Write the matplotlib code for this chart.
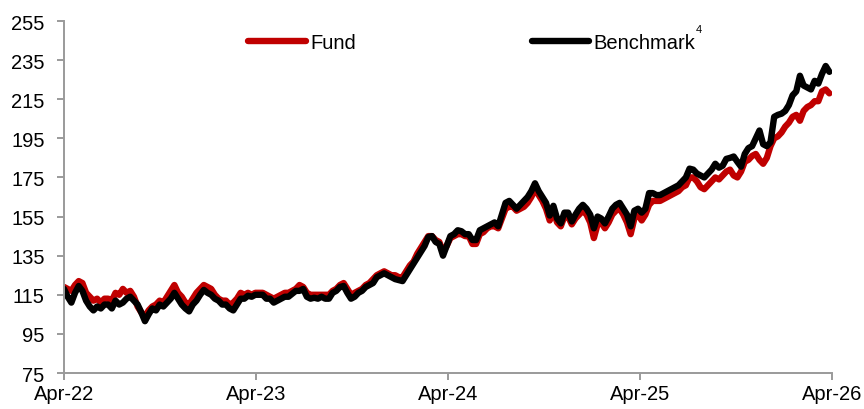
import matplotlib
matplotlib.use("Agg")
import matplotlib.pyplot as plt
import matplotlib.dates as mdates
import pandas as pd

plt.rcParams["font.family"] = ["Liberation Sans", "DejaVu Sans"]

# weekly observations, Apr-2022 .. Mar-2026
start_date = "2022-04-01"
benchmark = [
    # Apr-22 .. Apr-23
    118, 114, 111, 116, 119.5, 117, 112, 109, 107, 109,
    108, 110, 110, 108, 112, 110, 111, 113, 114, 112,
    110, 106, 101.5, 105, 108, 107, 110, 109, 111, 113,
    116, 113, 110, 108, 106.5, 110, 112, 115, 117.5, 116,
    115, 113, 112, 110, 110, 108, 107, 110, 113, 113,
    114.5, 114, 115,
    # Apr-23 .. Apr-24
    115, 115, 113, 113, 111, 112, 113, 114, 114, 115.5,
    117, 117, 118, 114, 113, 113.5, 113, 114, 113, 113,
    116, 117, 119, 119.5, 116, 113, 114, 116, 117, 119,
    120, 121, 124, 125, 126, 125, 124, 123, 122.5, 122,
    125, 128, 131, 134, 137, 140, 144.5, 145, 142, 141,
    135, 140,
    # Apr-24 .. Apr-25
    145, 146, 148, 147.5, 146, 146, 143, 143, 148, 149,
    150, 151, 152, 150, 156, 162, 163, 161, 159, 161,
    163, 165, 168, 172, 168, 165, 162, 155.5, 160.5, 154,
    151.5, 157, 157, 152.5, 156, 159, 161, 159, 156, 149,
    155, 154, 151.5, 155, 159, 161, 162, 159, 156, 150,
    158, 159,
    # Apr-25 .. Apr-26
    157, 159, 167, 167, 166, 166, 167, 168, 169, 170,
    171, 173, 175, 179.5, 179, 177, 176, 175, 177, 179,
    182, 180, 181, 184.5, 185, 185.7, 183, 180.5, 187, 190,
    191, 195, 199, 192, 191, 193, 206, 207, 207.6, 209,
    212, 217, 219, 227, 222, 221, 220, 224.4, 223, 228,
    232, 229,
]
fund = [
    # Apr-22 .. Apr-23
    119, 118, 117, 120, 122, 121, 116, 114, 112, 113,
    111, 113, 113, 112, 116, 115, 118, 116, 117, 114,
    109, 106, 104, 107, 109, 110, 112, 111, 114, 117,
    120, 116, 114, 111, 110, 113, 116, 118, 120, 119,
    118, 115, 113, 112, 112, 110, 111, 113, 116, 115,
    116, 115, 116,
    # Apr-23 .. Apr-24
    116, 116, 115, 114, 113, 114, 115, 116, 116, 117,
    118, 120, 119, 116, 115, 115, 115, 115, 115, 115,
    117, 118, 120, 121, 118, 115, 116, 117, 118, 120,
    121, 123, 125, 126, 127, 126, 125, 125, 124, 124,
    127, 130, 132, 136, 139, 142, 145, 145, 143, 142,
    137, 140,
    # Apr-24 .. Apr-25
    144, 145, 146, 146, 145, 145, 141, 141, 146, 147,
    149, 150, 150, 149, 154, 159, 160, 160, 158, 159,
    160, 162, 165, 169, 166, 163, 159, 153, 158, 152,
    150, 155, 155, 151, 154, 156, 158, 156, 152, 144,
    151, 152, 149, 152, 156, 158, 159, 156, 152, 146,
    154, 156,
    # Apr-25 .. Apr-26
    153, 156, 161, 163, 163, 163, 164, 165, 166, 167,
    168, 170, 171, 175, 175, 173, 170, 169, 171, 173,
    175, 174, 176, 178, 179, 176, 175, 178, 183, 184,
    186, 187, 184, 182, 185, 191, 195, 196, 198, 201,
    203, 206, 207, 204, 209, 211, 212, 214, 214, 219,
    220, 218,
]
dates = pd.date_range(start_date, periods=len(benchmark), freq="7D")

y_ticks = list(range(75, 256, 20))
x_ticks = pd.to_datetime(["2022-04-01", "2023-04-01", "2024-04-01",
                          "2025-04-01", "2026-04-01"])

fig = plt.figure(figsize=(8.64, 4.10), dpi=100)
ax = fig.add_axes([64 / 864, 1 - 374 / 410, 768 / 864, 352 / 410])

ax.plot(dates, fund, color="#C00000", linewidth=4.6, solid_capstyle="round",
        solid_joinstyle="round", label="Fund")
ax.plot(dates, benchmark, color="#000000", linewidth=4.6, solid_capstyle="round",
        solid_joinstyle="round", label="Benchmark")

ax.set_ylim(75, 255)
ax.set_yticks(y_ticks)
ax.set_xlim(x_ticks[0], x_ticks[-1])
ax.set_xticks(x_ticks)
ax.xaxis.set_major_formatter(mdates.DateFormatter("%b-%y"))

for side in ("top", "right"):
    ax.spines[side].set_visible(False)
for side in ("left", "bottom"):
    ax.spines[side].set_color("#9a9a9a")
    ax.spines[side].set_linewidth(1.4)
ax.tick_params(axis="both", colors="#9a9a9a", labelcolor="black",
               labelsize=14.5, length=5, width=1.4, direction="out")
ax.tick_params(axis="y", pad=9)
ax.tick_params(axis="x", pad=3)

leg = ax.legend(loc="center", bbox_to_anchor=(0.531, 0.94), ncol=2,
                frameon=False, fontsize=14.5, handlelength=2.85,
                handletextpad=0.2, columnspacing=8.75)
for h in leg.get_lines():
    h.set_solid_capstyle("round")

# footnote marker after "Benchmark"
fig.canvas.draw()
bb = leg.get_texts()[1].get_window_extent()
fig.text(bb.x1 + 1, bb.y1 + 9, "4", fontsize=8, va="top", ha="left",
         transform=None)

fig.savefig("out.png", dpi=100)
